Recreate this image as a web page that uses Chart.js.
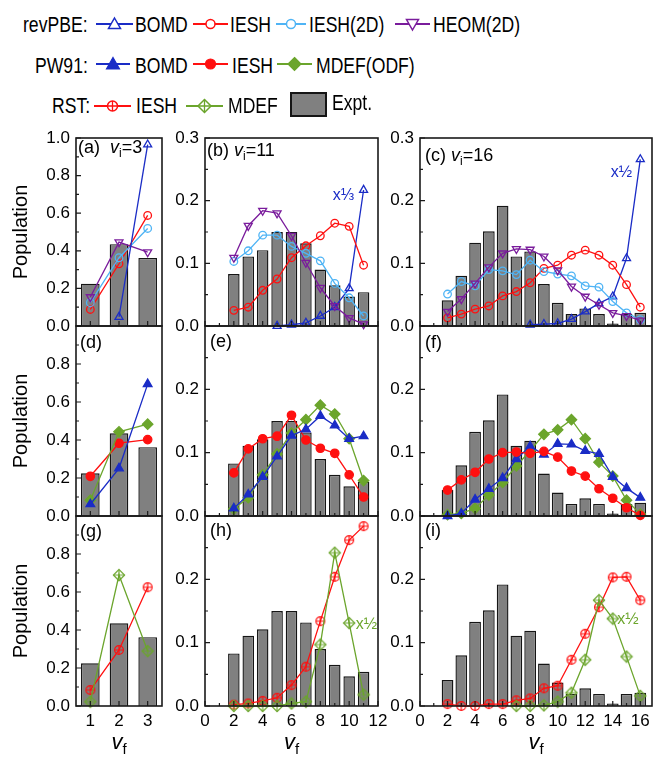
<!DOCTYPE html>
<html><head><meta charset="utf-8">
<script src="https://cdn.jsdelivr.net/npm/chart.js@4.4.1/dist/chart.umd.min.js"></script>
<style>
body{margin:0;background:#fff;}
#root{position:relative;width:653px;height:758px;overflow:hidden;font-family:'Liberation Sans',Arial,sans-serif;color:#000;background:#fff;}
.abs{position:absolute;white-space:nowrap;}
.lg{font-size:22px;line-height:26px;transform:scaleX(0.8);transform-origin:0 50%;}
.pl{font-size:18px;line-height:18px;z-index:5;}
.pl sub{font-size:12px;vertical-align:-4px;line-height:0;}
.xt{font-size:22px;line-height:22px;z-index:5;}
.xt sub{font-size:15px;vertical-align:-5px;line-height:0;}
.yt{font-size:20px;line-height:24px;width:200px;text-align:center;transform:rotate(-90deg);transform-origin:50% 50%;z-index:5;}
canvas{position:absolute;}
</style></head><body><div id="root"></div>
<script>
// ---------------- DATA ----------------
const vf3 = [1, 2, 3];
const vf11 = [2, 3, 4, 5, 6, 7, 8, 9, 10, 11];
const vf16 = [2, 3, 4, 5, 6, 7, 8, 9, 10, 11, 12, 13, 14, 15, 16];

const expt3 = [0.225, 0.435, 0.362];
const expt11 = [0.083, 0.111, 0.121, 0.150, 0.150, 0.132, 0.090, 0.065, 0.047, 0.054];
const expt16 = [0.041, 0.080, 0.133, 0.151, 0.192, 0.111, 0.119, 0.067, 0.037, 0.019, 0.028, 0.019, 0.004, 0.019, 0.021];

// revPBE
const revBOMD_a = [null, 0.048, 0.965];
const revIESH_a = [0.088, 0.331, 0.588];
const rev2D_a = [0.124, 0.363, 0.519];
const heom_a = [0.154, 0.446, 0.393];

const revBOMD_b = [null, null, null, 0.000, 0.002, 0.005, 0.016, 0.030, 0.060, 0.217];
const revIESH_b = [0.025, 0.030, 0.057, 0.075, 0.109, 0.128, 0.144, 0.164, 0.159, 0.097];
const rev2D_b = [0.103, 0.120, 0.145, 0.145, 0.127, 0.116, 0.104, 0.068, 0.045, 0.016];
const heom_b = [0.109, 0.160, 0.184, 0.180, 0.144, 0.101, 0.061, 0.032, 0.013, 0.003];

const revBOMD_c = [null, null, null, null, null, null, 0.002, 0.003, 0.004, 0.011, 0.023, 0.036, 0.047, 0.108, 0.266];
const revIESH_c = [0.013, 0.019, 0.027, 0.032, 0.048, 0.055, 0.069, 0.092, 0.097, 0.113, 0.121, 0.113, 0.097, 0.066, 0.030];
const rev2D_c = [0.051, 0.071, 0.064, 0.090, 0.088, 0.082, 0.105, 0.087, 0.083, 0.080, 0.064, 0.062, 0.039, 0.021, 0.010];
const heom_c = [0.023, 0.043, 0.068, 0.094, 0.116, 0.123, 0.122, 0.111, 0.089, 0.063, 0.047, 0.034, 0.021, 0.016, 0.009];

// PW91
const pwBOMD_d = [0.062, 0.251, 0.694];
const pwIESH_d = [0.209, 0.383, 0.402];
const pwMDEF_d = [0.083, 0.443, 0.483];

const pwIESH_e = [0.068, 0.106, 0.122, 0.126, 0.159, 0.120, 0.107, 0.099, 0.065, 0.030];
const pwMDEF_e = [0.011, 0.029, 0.065, 0.098, 0.131, 0.152, 0.175, 0.161, 0.122, 0.056];
const pwBOMD_e = [0.012, 0.034, 0.062, 0.094, 0.127, 0.137, 0.158, 0.143, 0.122, 0.126];

const pwIESH_f = [0.041, 0.057, 0.069, 0.090, 0.100, 0.101, 0.099, 0.102, 0.093, 0.071, 0.063, 0.043, 0.028, 0.013, 0.001];
const pwBOMD_f = [0.000, 0.004, 0.026, 0.043, 0.060, 0.090, 0.110, 0.097, 0.114, 0.113, 0.103, 0.098, 0.062, 0.044, 0.029];
const pwMDEF_f = [0.002, 0.004, 0.012, 0.033, 0.053, 0.079, 0.103, 0.129, 0.136, 0.152, 0.122, 0.085, 0.063, 0.025, 0.003];

// RST
const rstIESH_g = [0.084, 0.295, 0.625];
const rstMDEF_g = [0.023, 0.689, 0.289];

const rstIESH_h = [0.002, 0.004, 0.008, 0.013, 0.033, 0.062, 0.134, 0.204, 0.262, 0.284];
const rstMDEF_h = [0.000, 0.000, 0.000, 0.000, 0.004, 0.007, 0.097, 0.242, 0.131, 0.018];

const rstIESH_i = [0.003, 0.000, 0.000, 0.003, 0.003, 0.009, 0.012, 0.028, 0.032, 0.073, 0.114, 0.156, 0.203, 0.204, 0.167];
const rstMDEF_i = [null, null, null, null, null, 0.000, 0.000, 0.001, 0.007, 0.021, 0.073, 0.167, 0.138, 0.078, 0.016];

// tick labels
const yTicksA = [0, 0.2, 0.4, 0.6, 0.8, 1.0];
const yMinorA = [0.1, 0.3, 0.5, 0.7, 0.9];
const yTicksB = [0, 0.1, 0.2, 0.3];
const yMinorB = [0.05, 0.15, 0.25];
const xTicks3 = [1, 2, 3];
const xTicks11 = [0, 2, 4, 6, 8, 10, 12];
const xMinor11 = [1, 3, 5, 7, 9, 11];
const xTicks16 = [0, 2, 4, 6, 8, 10, 12, 14, 16];
const xMinor16 = [1, 3, 5, 7, 9, 11, 13, 15];

// ---------------- STYLE / LAYOUT ----------------
const BLUE = '#1a2cc6', RED = '#ff1010', LBLUE = '#4fb4f5', PURPLE = '#7a1c9c', GREEN = '#6ba52c';
const BAR_FILL = '#808080', BAR_EDGE = '#151515';

function makeMarker(kind, color) {
  const s = 14, m = 7;
  const c = document.createElement('canvas'); c.width = s; c.height = s;
  const g = c.getContext('2d'); g.strokeStyle = color; g.lineWidth = 1.2;
  if (kind === 'circlePlus') {
    g.beginPath(); g.arc(m, m, 4.4, 0, 2 * Math.PI); g.stroke();
    g.beginPath(); g.moveTo(m - 4.4, m); g.lineTo(m + 4.4, m); g.moveTo(m, m - 4.4); g.lineTo(m, m + 4.4); g.stroke();
  } else {
    const d = 5.6;
    g.beginPath(); g.moveTo(m, m - d); g.lineTo(m + d, m); g.lineTo(m, m + d); g.lineTo(m - d, m); g.closePath(); g.stroke();
    g.beginPath(); g.moveTo(m - d, m); g.lineTo(m + d, m); g.moveTo(m, m - d); g.lineTo(m, m + d); g.stroke();
  }
  return c;
}

const STY = {
  revBOMD: {color: BLUE, ps: 'triangle', r: 4.6, fill: false},
  revIESH: {color: RED, ps: 'circle', r: 3.8, fill: false},
  rev2D:   {color: LBLUE, ps: 'circle', r: 3.8, fill: false},
  heom:    {color: PURPLE, ps: 'triangle', r: 4.6, rot: 180, fill: false},
  pwBOMD:  {color: BLUE, ps: 'triangle', r: 5, fill: true},
  pwIESH:  {color: RED, ps: 'circle', r: 4.2, fill: true},
  pwMDEF:  {color: GREEN, ps: 'rectRot', r: 5.2, fill: true},
  rstIESH: {color: RED, ps: makeMarker('circlePlus', RED), r: 5},
  rstMDEF: {color: GREEN, ps: makeMarker('diamondPlus', GREEN), r: 6},
};

const COLS = [
  {l: 76, r: 162, xmin: 0.5, xmax: 3.5, xt: xTicks3, xm: [], yt: yTicksA, ym: yMinorA, ymax: 1.0, bp: 0.65},
  {l: 205, r: 378, xmin: 0, xmax: 12, xt: xTicks11, xm: xMinor11, yt: yTicksB, ym: yMinorB, ymax: 0.3, bp: 0.8},
  {l: 420, r: 652, xmin: 0, xmax: 16.85, xt: xTicks16, xm: xMinor16, yt: yTicksB, ym: yMinorB, ymax: 0.3, bp: 0.85},
];
const ROWS = [{t: 138, b: 326}, {t: 326, b: 516}, {t: 516, b: 706}];

const panels = [
  {col: 0, row: 0, xs: vf3, expt: expt3, series: [['revBOMD', revBOMD_a], ['heom', heom_a], ['rev2D', rev2D_a], ['revIESH', revIESH_a]], notes: []},
  {col: 1, row: 0, xs: vf11, expt: expt11, series: [['heom', heom_b], ['rev2D', rev2D_b], ['revIESH', revIESH_b], ['revBOMD', revBOMD_b]],
    notes: [{text: 'x⅓', x: 10.35, y: 0.208, color: BLUE, align: 'right'}]},
  {col: 2, row: 0, xs: vf16, expt: expt16, series: [['heom', heom_c], ['rev2D', rev2D_c], ['revIESH', revIESH_c], ['revBOMD', revBOMD_c]],
    notes: [{text: 'x½', x: 15.4, y: 0.244, color: BLUE, align: 'right'}]},
  {col: 0, row: 1, xs: vf3, expt: expt3, series: [['pwBOMD', pwBOMD_d], ['pwMDEF', pwMDEF_d], ['pwIESH', pwIESH_d]], notes: []},
  {col: 1, row: 1, xs: vf11, expt: expt11, series: [['pwBOMD', pwBOMD_e], ['pwMDEF', pwMDEF_e], ['pwIESH', pwIESH_e]], notes: []},
  {col: 2, row: 1, xs: vf16, expt: expt16, series: [['pwIESH', pwIESH_f], ['pwBOMD', pwBOMD_f], ['pwMDEF', pwMDEF_f]], notes: []},
  {col: 0, row: 2, xs: vf3, expt: expt3, series: [['rstMDEF', rstMDEF_g], ['rstIESH', rstIESH_g]], notes: []},
  {col: 1, row: 2, xs: vf11, expt: expt11, series: [['rstMDEF', rstMDEF_h], ['rstIESH', rstIESH_h]],
    notes: [{text: 'x½', x: 10.45, y: 0.128, color: GREEN, align: 'left'}]},
  {col: 2, row: 2, xs: vf16, expt: expt16, series: [['rstMDEF', rstMDEF_i], ['rstIESH', rstIESH_i]],
    notes: [{text: 'x½', x: 14.33, y: 0.137, color: GREEN, align: 'left'}]},
];

const panelLabels = [
  {html: '(a)&nbsp; <i>v</i><sub>i</sub>=3', x: 78, y: 138},
  {html: '(b)&nbsp;<i>v</i><sub>i</sub>=11', x: 207, y: 141},
  {html: '(c)&nbsp;<i>v</i><sub>i</sub>=16', x: 425, y: 146},
  {html: '(d)', x: 80, y: 333},
  {html: '(e)', x: 210, y: 332},
  {html: '(f)', x: 425, y: 333},
  {html: '(g)', x: 80, y: 522},
  {html: '(h)', x: 210, y: 521},
  {html: '(i)', x: 425, y: 521},
];

Chart.defaults.font.family = "'Liberation Sans', Arial, sans-serif";
Chart.defaults.color = '#000';

const framePlugin = {
  id: 'frame',
  afterDatasetsDraw(chart, args, o) {
    const {ctx, chartArea: a, scales: {x, y}} = chart;
    ctx.save();
    ctx.strokeStyle = '#1a1a1a';
    ctx.lineWidth = 1.2;
    ctx.beginPath();
    o.yMajor.forEach(v => { const p = y.getPixelForValue(v); ctx.moveTo(a.left, p); ctx.lineTo(a.left + 5, p); });
    o.yMinor.forEach(v => { const p = y.getPixelForValue(v); ctx.moveTo(a.left, p); ctx.lineTo(a.left + 3, p); });
    o.xMajor.forEach(v => { const p = x.getPixelForValue(v); ctx.moveTo(p, a.bottom); ctx.lineTo(p, a.bottom - 5); });
    o.xMinor.forEach(v => { const p = x.getPixelForValue(v); ctx.moveTo(p, a.bottom); ctx.lineTo(p, a.bottom - 3); });
    ctx.stroke();
    ctx.lineWidth = 1.6;
    ctx.strokeRect(a.left, a.top, a.right - a.left, a.bottom - a.top);
    ctx.font = "16px 'Liberation Sans', Arial, sans-serif";
    ctx.textBaseline = 'middle';
    (o.notes || []).forEach(n => {
      ctx.fillStyle = n.color; ctx.textAlign = n.align;
      ctx.fillText(n.text, x.getPixelForValue(n.x), y.getPixelForValue(n.y));
    });
    ctx.restore();
  }
};

const root = document.getElementById('root');
const LM = 52, PT = 12, PR = 10;

panels.forEach(p => {
  const C = COLS[p.col], R = ROWS[p.row];
  const BH = p.row === 2 ? 34 : 10;
  const w = (C.r - C.l) + LM + PR, h = (R.b - R.t) + PT + BH;
  const cv = document.createElement('canvas');
  cv.width = w; cv.height = h;
  cv.style.left = (C.l - LM) + 'px'; cv.style.top = (R.t - PT) + 'px';
  cv.style.width = w + 'px'; cv.style.height = h + 'px';
  root.appendChild(cv);

  const datasets = [];
  p.series.forEach(([key, vals], i) => {
    const s = STY[key];
    const pts = [];
    p.xs.forEach((xv, j) => { if (vals[j] !== null) pts.push({x: xv, y: vals[j]}); });
    datasets.push({
      type: 'line', data: pts, order: 1 + i,
      borderColor: s.color, borderWidth: 1.3,
      pointStyle: s.ps, pointRadius: s.r, pointRotation: s.rot || 0,
      pointBorderColor: s.color, pointBorderWidth: 1.3,
      pointBackgroundColor: s.fill ? s.color : 'rgba(255,255,255,0)',
      tension: 0, clip: false,
    });
  });
  datasets.push({
    type: 'bar', data: p.xs.map((xv, j) => ({x: xv, y: p.expt[j]})), order: 50,
    backgroundColor: BAR_FILL, borderColor: BAR_EDGE, borderWidth: 1.4,
    categoryPercentage: 1, barPercentage: C.bp,
  });

  new Chart(cv, {
    data: {datasets},
    options: {
      responsive: false, animation: false, devicePixelRatio: 1,
      layout: {padding: {left: 0, top: PT, right: PR, bottom: 0}},
      plugins: {
        legend: {display: false}, tooltip: {enabled: false},
        frame: {xMajor: C.xt, xMinor: C.xm, yMajor: C.yt, yMinor: C.ym, notes: p.notes},
      },
      scales: {
        x: {
          type: 'linear', min: C.xmin, max: C.xmax, offset: false,
          grid: {display: false, drawTicks: false}, border: {display: false},
          afterBuildTicks: s => { s.ticks = C.xt.map(v => ({value: v})); },
          afterFit: s => { s.height = BH; s.paddingLeft = 0; s.paddingRight = 0; },
          ticks: {display: p.row === 2, padding: 5, autoSkip: false, maxRotation: 0, font: {size: 17}, color: '#000',
            callback: v => String(v)},
        },
        y: {
          type: 'linear', min: 0, max: C.ymax,
          grid: {display: false, drawTicks: false}, border: {display: false},
          afterBuildTicks: s => { s.ticks = C.yt.map(v => ({value: v})); },
          afterFit: s => { s.width = LM; s.paddingTop = 0; s.paddingBottom = 0; },
          ticks: {padding: 6, autoSkip: false, font: {size: 17}, color: '#000',
            callback: v => (p.row > 0 && Math.abs(v - C.ymax) < 1e-9) ? '' : v.toFixed(1)},
        },
      },
    },
    plugins: [framePlugin],
  });
});

// panel labels
panelLabels.forEach(l => {
  const d = document.createElement('div');
  d.className = 'abs pl'; d.style.left = l.x + 'px'; d.style.top = l.y + 'px';
  d.innerHTML = l.html; root.appendChild(d);
});

// axis titles
ROWS.forEach(R => {
  const d = document.createElement('div');
  d.className = 'abs yt'; d.textContent = 'Population';
  d.style.left = (20 - 100) + 'px'; d.style.top = ((R.t + R.b) / 2 - 12) + 'px';
  root.appendChild(d);
});
COLS.forEach(C => {
  const d = document.createElement('div');
  d.className = 'abs xt'; d.innerHTML = '<i>v</i><sub>f</sub>';
  root.appendChild(d);
  const cx = (C.l + C.r) / 2;
  d.style.left = (cx - d.offsetWidth / 2) + 'px'; d.style.top = '731px';
});

// legend
const legendRows = [
  {label: 'revPBE:', lx: 23, top: 12, cy: 24, items: [
    {key: 'revBOMD', x1: 96, x2: 133, text: 'BOMD', tx: 135},
    {key: 'revIESH', x1: 193, x2: 228, text: 'IESH', tx: 230},
    {key: 'rev2D', x1: 276, x2: 306, text: 'IESH(2D)', tx: 309},
    {key: 'heom', x1: 395, x2: 430, text: 'HEOM(2D)', tx: 433}]},
  {label: 'PW91:', lx: 35, top: 53, cy: 64, items: [
    {key: 'pwBOMD', x1: 96, x2: 130, text: 'BOMD', tx: 135},
    {key: 'pwIESH', x1: 193, x2: 228, text: 'IESH', tx: 232},
    {key: 'pwMDEF', x1: 277, x2: 312, text: 'MDEF(ODF)', tx: 316}]},
  {label: 'RST:', lx: 52, top: 93, cy: 106, items: [
    {key: 'rstIESH', x1: 94, x2: 131, text: 'IESH', tx: 136},
    {key: 'rstMDEF', x1: 186, x2: 223, text: 'MDEF', tx: 228}]},
];
function legMarker(key, cx, cy) {
  const s = STY[key], c = s.color;
  const open = 'fill="#fff" stroke="' + c + '" stroke-width="1.5"';
  const full = 'fill="' + c + '" stroke="' + c + '" stroke-width="1.2"';
  switch (key) {
    case 'revBOMD': return `<polygon points="${cx},${cy-6} ${cx+6},${cy+4.5} ${cx-6},${cy+4.5}" ${open}/>`;
    case 'heom': return `<polygon points="${cx},${cy+6} ${cx+6},${cy-4.5} ${cx-6},${cy-4.5}" ${open}/>`;
    case 'pwBOMD': return `<polygon points="${cx},${cy-6.5} ${cx+6.5},${cy+5} ${cx-6.5},${cy+5}" ${full}/>`;
    case 'revIESH': case 'rev2D': return `<circle cx="${cx}" cy="${cy}" r="4.5" ${open}/>`;
    case 'pwIESH': return `<circle cx="${cx}" cy="${cy}" r="5" ${full}/>`;
    case 'pwMDEF': return `<polygon points="${cx},${cy-6.5} ${cx+6.5},${cy} ${cx},${cy+6.5} ${cx-6.5},${cy}" ${full}/>`;
    case 'rstIESH': return `<circle cx="${cx}" cy="${cy}" r="5" ${open}/><path d="M${cx-5} ${cy}H${cx+5}M${cx} ${cy-5}V${cy+5}" stroke="${c}" stroke-width="1.3"/>`;
    case 'rstMDEF': return `<polygon points="${cx},${cy-6.5} ${cx+6.5},${cy} ${cx},${cy+6.5} ${cx-6.5},${cy}" ${open}/><path d="M${cx-6.5} ${cy}H${cx+6.5}M${cx} ${cy-6.5}V${cy+6.5}" stroke="${c}" stroke-width="1.3"/>`;
  }
  return '';
}
let svg = '<svg class="abs" style="left:0;top:0" width="653" height="125" xmlns="http://www.w3.org/2000/svg">';
legendRows.forEach(r => {
  const t = document.createElement('div');
  t.className = 'abs lg'; t.textContent = r.label; t.style.left = r.lx + 'px'; t.style.top = r.top + 'px';
  root.appendChild(t);
  r.items.forEach(it => {
    const c = STY[it.key].color;
    svg += `<line x1="${it.x1}" y1="${r.cy}" x2="${it.x2}" y2="${r.cy}" stroke="${c}" stroke-width="2"/>`;
    svg += legMarker(it.key, (it.x1 + it.x2) / 2, r.cy);
    const d = document.createElement('div');
    d.className = 'abs lg'; d.textContent = it.text; d.style.left = it.tx + 'px'; d.style.top = r.top + 'px';
    root.appendChild(d);
  });
});
svg += `<rect x="291" y="93" width="35" height="23" fill="${BAR_FILL}" stroke="${BAR_EDGE}" stroke-width="2"/>`;
svg += '</svg>';
root.insertAdjacentHTML('afterbegin', svg);
const ex = document.createElement('div');
ex.className = 'abs lg'; ex.textContent = 'Expt.'; ex.style.left = '332px'; ex.style.top = '90px';
root.appendChild(ex);
</script>
</body></html>
